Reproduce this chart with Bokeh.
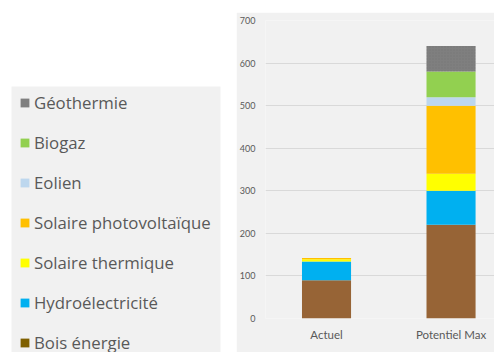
from bokeh.plotting import figure
from bokeh.models import (Range1d, FixedTicker, Legend, LegendItem, Label, Spacer,
                          BoxAnnotation)
from bokeh.layouts import row, column
from bokeh.embed import file_html
from bokeh.resources import INLINE

# Energy sources (bottom of stack first)
sources = ["Bois énergie", "Hydroélectricité", "Solaire thermique",
           "Solaire photovoltaïque", "Eolien", "Biogaz", "Géothermie"]
periods = ["Actuel", "Potentiel Max"]
years = ["2015", "2050"]

# Production per source for each period
bois = [90, 220]
hydro = [44, 80]
solaire_thermique = [5, 40]
solaire_pv = [3, 160]
eolien = [0, 20]
biogaz = [0, 60]
geothermie = [0, 60]

bar_colors = ["#976436", "#00B0F0", "#FFFF00", "#FFC000", "#BDD7EE", "#92D050", "#7F7F7F"]
swatch_colors = ["#7F6000", "#00B0F0", "#FFFF00", "#FFC000", "#BDD7EE", "#92D050", "#7F7F7F"]

y_ticks = [0, 100, 200, 300, 400, 500, 600, 700]

FONT = "Lato"
LEGEND_FONT = "Open Sans"
TEXT = "#595959"
PANEL = "#F1F1F1"

xs = [i + 0.5 for i in range(len(periods))]
data = dict(x=xs, bois=bois, hydro=hydro, st=solaire_thermique, pv=solaire_pv,
            eolien=eolien, biogaz=biogaz, geo=geothermie)
keys = ["bois", "hydro", "st", "pv", "eolien", "biogaz", "geo"]

# ---- chart ----
chart = figure(width=258, height=340, output_backend="svg", toolbar_location=None,
               x_range=Range1d(0.01, 1.849), y_range=Range1d(0, 700),
               min_border_left=29, min_border_right=0, min_border_top=8,
               min_border_bottom=34)
chart.background_fill_color = PANEL
chart.border_fill_color = PANEL
chart.outline_line_color = None

stack = chart.vbar_stack(keys, x="x", width=0.394, source=data,
                         color=bar_colors, line_color=None)
geo_glyph = stack[-1].glyph
geo_glyph.hatch_pattern = "dot"
geo_glyph.hatch_color = "#6A6A6A"
geo_glyph.hatch_alpha = 0.4
geo_glyph.hatch_scale = 3
geo_glyph.hatch_weight = 1

chart.xgrid.visible = False
chart.ygrid.grid_line_color = "#D9D9D9"
chart.ygrid.ticker = FixedTicker(ticks=y_ticks)

yax = chart.yaxis[0]
yax.ticker = FixedTicker(ticks=y_ticks)
yax.axis_line_color = None
yax.major_tick_line_color = None
yax.minor_tick_line_color = None
yax.major_tick_out = 0
yax.minor_tick_out = 0
yax.major_label_text_font = FONT
yax.major_label_text_font_size = "9px"
yax.major_label_text_color = TEXT
yax.major_label_standoff = 10

xax = chart.xaxis[0]
xax.ticker = FixedTicker(ticks=xs)
xax.major_label_overrides = {x: name for x, name in zip(xs, periods)}
xax.axis_line_color = None
xax.major_tick_line_color = None
xax.minor_tick_line_color = None
xax.major_tick_out = 0
xax.minor_tick_out = 0
xax.major_label_text_font = FONT
xax.major_label_text_font_size = "11.5px"
xax.major_label_text_color = TEXT
xax.major_label_standoff = 9

for x, yr in zip(xs, years):
    chart.add_layout(Label(x=x, y=-26, x_units="data", y_units="screen", text=yr,
                           text_align="center", text_baseline="top",
                           text_font=FONT, text_font_size="11.5px", text_color=TEXT))

# ---- legend panel (pixel-sized ranges, y measured from the bottom) ----
LEG_W, LEG_H = 236, 352
leg = figure(width=LEG_W, height=LEG_H, output_backend="svg", toolbar_location=None,
             x_range=Range1d(0, LEG_W), y_range=Range1d(0, LEG_H), min_border=0)
leg.axis.visible = False
leg.grid.visible = False
leg.outline_line_color = None
leg.background_fill_color = "white"
leg.border_fill_color = "white"

# grey box behind the legend entries
leg.add_layout(BoxAnnotation(left=11, right=220, bottom=0, top=LEG_H - 86,
                             fill_color=PANEL, fill_alpha=1, line_color=None))

items = []
for name, col in zip(sources, swatch_colors):
    # swatch renderers sit outside the visible range; only their legend entries show
    r = leg.rect(x=[-50], y=[-50], width=1, height=1, fill_color=col, line_color=None)
    items.append(LegendItem(label=name, renderers=[r]))
items.reverse()

legend = Legend(items=items, location=(19, -2), orientation="vertical",
                glyph_width=11, glyph_height=11, label_height=20, spacing=17,
                padding=0, margin=0, label_standoff=4,
                label_text_font=LEGEND_FONT, label_text_font_size="16.8px",
                label_text_color=TEXT, background_fill_alpha=0,
                border_line_color=None)
leg.add_layout(legend)

layout = row(leg, column(Spacer(width=258, height=12), chart), spacing=0)

open("out.html", "w").write(file_html(layout, INLINE))
